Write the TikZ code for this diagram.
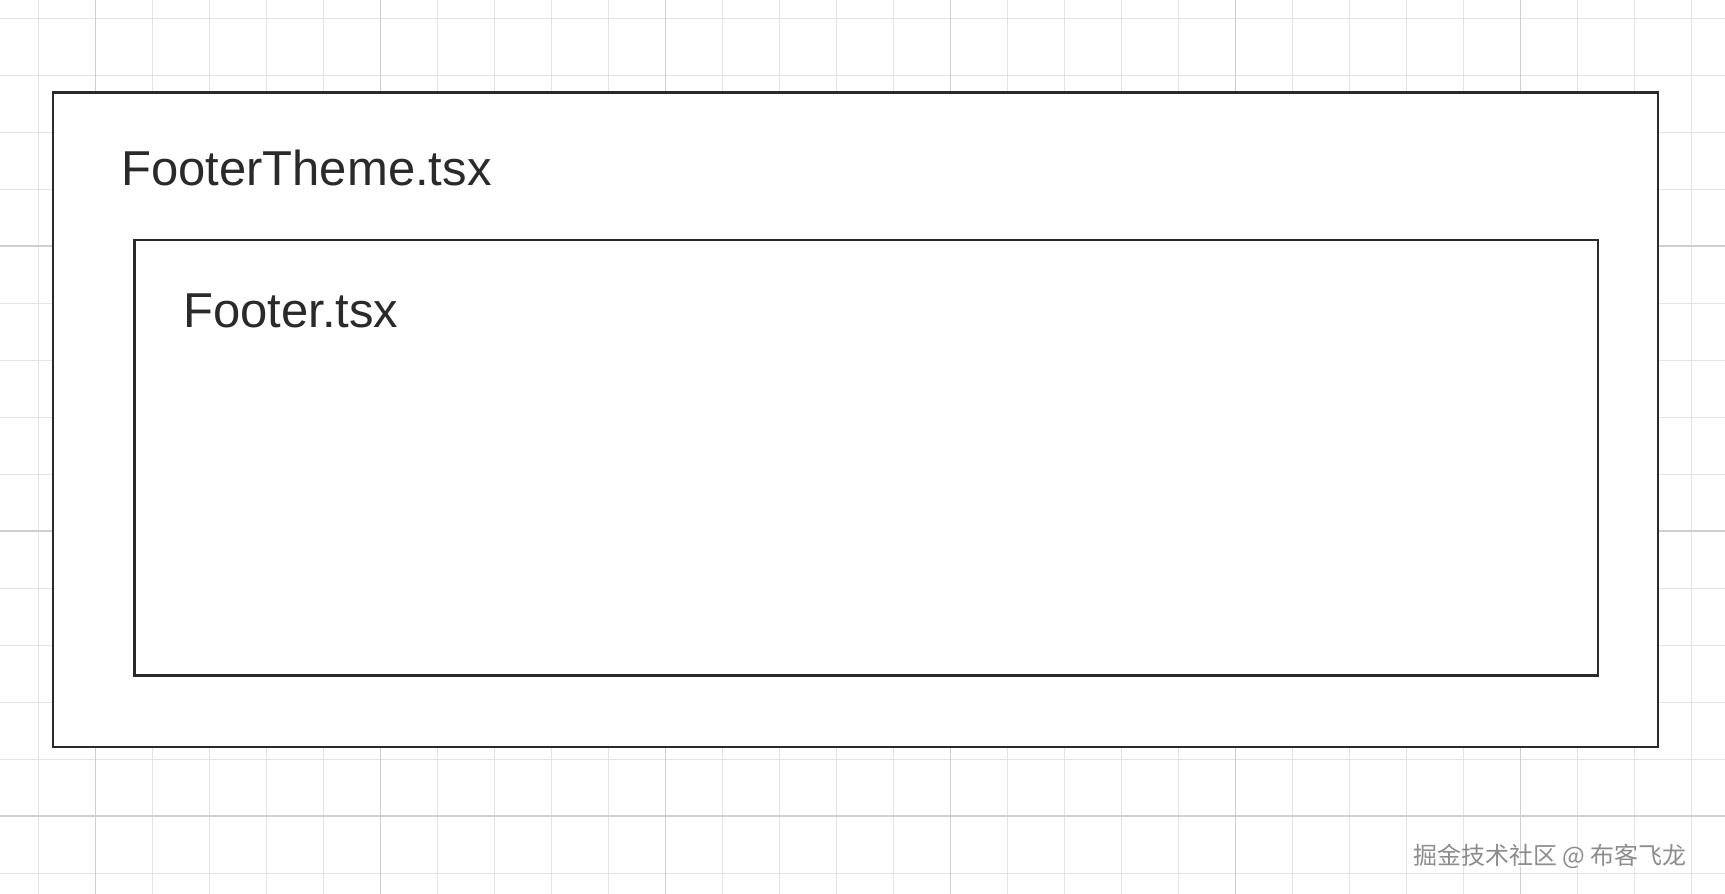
\documentclass[tikz,border=0pt]{standalone}
\usepackage{fontspec}
\setmainfont{Liberation Sans}
\newfontfamily\cjk{Noto Sans CJK SC}
\definecolor{gridminor}{HTML}{E3E3E3}
\definecolor{gridmajor}{HTML}{CFCFCF}
\definecolor{ink}{HTML}{2A2A2A}
\begin{document}
\begin{tikzpicture}[x=1pt,y=-1pt,
  boxstyle/.style={draw=ink,line width=2.2pt,fill=white,inner sep=0pt,outer sep=0pt},
  labelstyle/.style={anchor=base west,inner sep=0pt,text=ink,font=\fontsize{49}{56}\selectfont}]
\useasboundingbox (0,0) rectangle (1725,894);
\fill[white] (0,0) rectangle (1725,894);
\foreach \i in {0,...,30} {
  \pgfmathsetmacro\xx{38.5+57*\i}
  \draw[gridminor,line width=1.5pt] (\xx,0) -- (\xx,894);
}
\foreach \i in {0,...,15} {
  \pgfmathsetmacro\yy{18.5+57*\i}
  \draw[gridminor,line width=1.5pt] (0,\yy) -- (1725,\yy);
}
\foreach \xx in {95.5,380.5,665.5,950.5,1235.5,1520.5}
  \draw[gridmajor,line width=1.8pt] (\xx,0) -- (\xx,894);
\foreach \yy in {246,531,816}
  \draw[gridmajor,line width=1.8pt] (0,\yy) -- (1725,\yy);
\node[boxstyle,minimum width=1605pt,minimum height=654.5pt] (outer) at (855.5,419.75) {};
\node[boxstyle,minimum width=1463.5pt,minimum height=435.5pt] (inner) at (866.25,457.75) {};
\node[labelstyle] (theme) at (121,185) {FooterTheme.tsx};
\node[labelstyle] (footer) at (183,327) {Footer.tsx};
\node[anchor=base west,inner sep=0pt,text=white,font=\cjk\fontsize{24}{28}\selectfont] (wmshadow) at (1415,866) {掘金技术社区 @ 布客飞龙};
\node[anchor=base west,inner sep=0pt,text=gray!90,font=\cjk\fontsize{24}{28}\selectfont] (wm) at (1413,864) {掘金技术社区 @ 布客飞龙};
\end{tikzpicture}
\end{document}
